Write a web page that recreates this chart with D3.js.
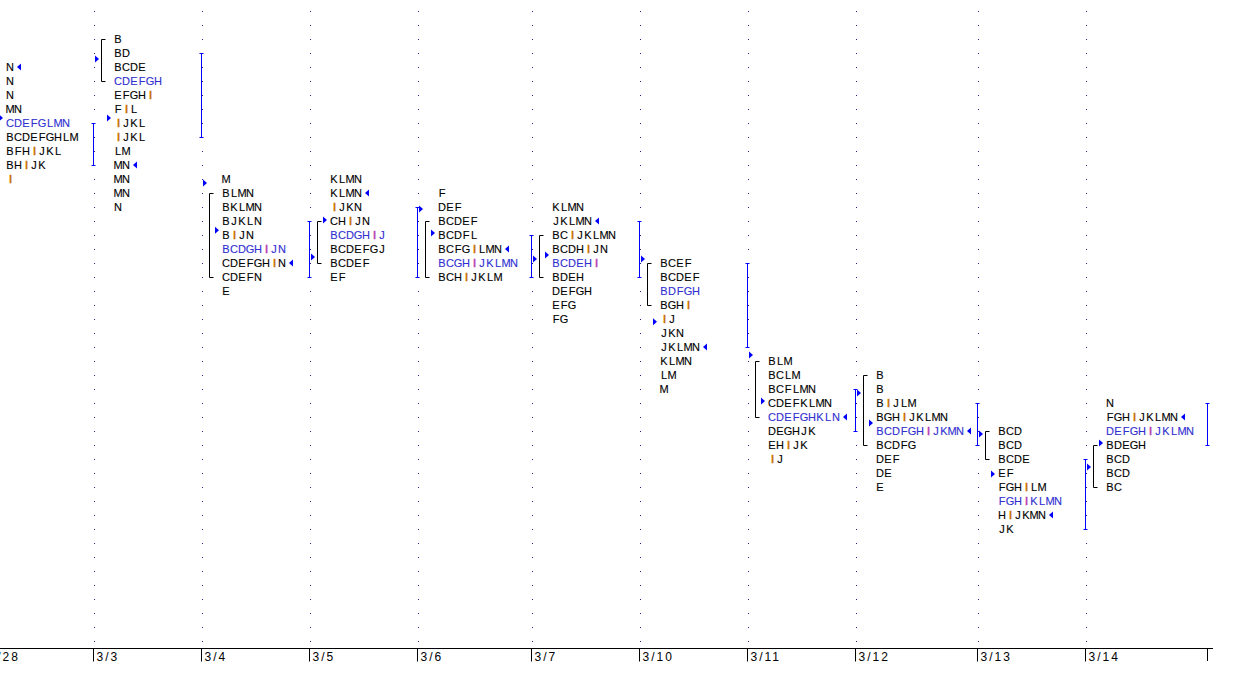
<!DOCTYPE html>
<html><head><meta charset="utf-8">
<script src="https://cdn.jsdelivr.net/npm/d3@7"></script>
<style>html,body{margin:0;padding:0;background:#fff;overflow:hidden}</style>
</head><body><svg id="c" width="1244" height="700"></svg>
<script>
// ---- data ----
const days = ["2/28","3/3","3/4","3/5","3/6","3/7","3/10","3/11","3/12","3/13","3/14"];
const profiles = [
  ["N","N","N","MN","CDEFGLMN","BCDEFGHLM","BFHIJKL","BHIJK","I"],
  ["B","BD","BCDE","CDEFGH","EFGHI","FIL","IJKL","IJKL","LM","MN","MN","MN","N"],
  ["M","BLMN","BKLMN","BJKLN","BIJN","BCDGHIJN","CDEFGHIN","CDEFN","E"],
  ["KLMN","KLMN","IJKN","CHIJN","BCDGHIJ","BCDEFGJ","BCDEF","EF"],
  ["F","DEF","BCDEF","BCDFL","BCFGILMN","BCGHIJKLMN","BCHIJKLM"],
  ["KLMN","JKLMN","BCIJKLMN","BCDHIJN","BCDEHI","BDEH","DEFGH","EFG","FG"],
  ["BCEF","BCDEF","BDFGH","BGHI","IJ","JKN","JKLMN","KLMN","LM","M"],
  ["BLM","BCLM","BCFLMN","CDEFKLMN","CDEFGHKLN","DEGHJK","EHIJK","IJ"],
  ["B","B","BIJLM","BGHIJKLMN","BCDFGHIJKMN","BCDFG","DEF","DE","E"],
  ["BCD","BCD","BCDE","EF","FGHILM","FGHIKLMN","HIJKMN","JK"],
  ["N","FGHIJKLMN","DEFGHIJKLMN","BDEGH","BCD","BCD","BC"]
];
// price levels counted downward from the top row of the grid
const topLevel   = [2, 0, 10, 10, 11, 12, 16, 23, 24, 28, 26];
const pocLevel   = [6, 3, 15, 14, 16, 16, 18, 27, 28, 33, 28];
const closeLevel = [2, 9, 16, 11, 15, 13, 22, 27, 28, 34, 27];
const openLevel  = [5.64, 5.64, 13.66, 12.93, 13.86, 15.43, 20.2, 25.86, 27.43, 31.07, 28.86];
const priorLevel = [null, 1.43, 10.29, 15.57, 12.14, 15.71, 15.71, 22.57, 25.29, 28.21, 30.57];
const vaHigh     = [6, 1, 13, 12, 14, 13, 16, 25, 26, 30, 26];
const vaLow      = [9, 7, 17, 17, 17, 17, 22, 28, 29, 35, 29];
const ibPeriods  = ["B","C"];

// ---- layout ----
const svg = d3.select("#c");
const CELL = 8, LETTER_OFF = 21, MINW = 108, PADW = 13;
const startX = -15;
const widths = profiles.map(p => Math.max(MINW, LETTER_OFF + CELL * d3.max(p, r => r.length) + PADW));
const bounds = [];
let acc = startX;
widths.forEach(w => { bounds.push(acc); acc += w; });
const endX = acc;
const x = d3.scaleOrdinal().domain(days).range(bounds);
const y = d3.scaleLinear().domain([0, 43]).range([39, 641]);
const px = v => Math.round(v) + 0.5;

const FONT = "'Liberation Sans', Arial, sans-serif";
const BLUE = "#0000ff";

// dotted grid
const gridLevels = d3.range(-2, 44);
const gGrid = svg.append("g");
days.forEach(d => {
  gGrid.selectAll(null).data(gridLevels).join("rect")
    .attr("x", Math.round(x(d)) + 1).attr("y", k => Math.round(y(k)))
    .attr("width", 1).attr("height", 1).attr("fill", "#20208a");
});

// profiles
days.forEach((d, i) => {
  const b = x(d);
  const L = b + LETTER_OFF;
  const next = i < days.length - 1 ? x(days[i + 1]) : endX;
  const g = svg.append("g");
  const rows = profiles[i].map((s, j) => ({ s, k: topLevel[i] + j }));
  // letters
  rows.forEach(r => {
    const poc = r.k === pocLevel[i];
    const col = c => c === "I" ? (poc ? "#b83cb0" : "#c86a00") : (poc ? "#3030d0" : "#000");
    g.selectAll(null).data(r.s.split("")).join("text")
      .attr("x", (c, j) => L + CELL * j + CELL / 2 + (c === "I" ? 0.5 : 0))
      .attr("y", y(r.k) + 4)
      .attr("text-anchor", "middle")
      .attr("font-family", FONT).attr("font-size", 11)
      .attr("fill", col)
      .attr("stroke", col)
      .attr("stroke-width", c => c === "I" ? 0.6 : 0.12)
      .text(c => c);
  });
  // initial balance bracket (rows with B or C)
  const ib = rows.filter(r => ibPeriods.some(p => r.s.includes(p))).map(r => r.k);
  if (ib.length) {
    const bx = px(b + 8), y0 = px(y(d3.min(ib))), y1 = px(y(d3.max(ib)));
    g.append("path").attr("d", `M${bx + 4},${y0}H${bx}V${y1}H${bx + 4}`)
      .attr("fill", "none").attr("stroke", "#000").attr("stroke-width", 1);
  }
  // value area bar at right edge
  {
    const vx = px(next), y0 = px(y(vaHigh[i])), y1 = px(y(vaLow[i]));
    g.append("path").attr("d", `M${vx - 2},${y0}H${vx + 2}M${vx},${y0}V${y1}M${vx - 2},${y1}H${vx + 2}`)
      .attr("fill", "none").attr("stroke", BLUE).attr("stroke-width", 1);
  }
  // prior marker at boundary
  if (priorLevel[i] != null) {
    const yy = y(priorLevel[i]);
    g.append("path").attr("d", `M${b + 2},${yy - 3.5}L${b + 6},${yy}L${b + 2},${yy + 3.5}Z`).attr("fill", BLUE);
  }
  // open marker
  {
    const yy = y(openLevel[i]);
    g.append("path").attr("d", `M${L - 7},${yy - 3.5}L${L - 3},${yy}L${L - 7},${yy + 3.5}Z`).attr("fill", BLUE);
  }
  // close marker
  {
    const cr = rows.find(r => r.k === closeLevel[i]);
    const e = L + CELL * cr.s.length;
    const yy = y(closeLevel[i]);
    g.append("path").attr("d", `M${e + 3},${yy}L${e + 7},${yy - 3.5}L${e + 7},${yy + 3.5}Z`).attr("fill", BLUE);
  }
});

// axis
const AX_Y = 648;
const axis = d3.axisBottom(x).tickSize(13).tickSizeOuter(0);
const gA = svg.append("g").attr("transform", `translate(0,${AX_Y + 0.5})`).call(axis);
gA.select(".domain").remove();
gA.selectAll(".tick").attr("transform", d => `translate(${px(x(d))},0)`);
gA.selectAll(".tick line").attr("stroke", "#000");
gA.selectAll(".tick text")
  .attr("x", 3).attr("y", 12.5).attr("dy", null)
  .attr("text-anchor", "start")
  .attr("font-family", FONT).attr("font-size", 12)
  .attr("letter-spacing", 2).attr("fill", "#000");
svg.append("line").attr("x1", 0).attr("x2", endX + 6)
  .attr("y1", AX_Y + 0.5).attr("y2", AX_Y + 0.5).attr("stroke", "#000");
svg.append("line").attr("x1", px(endX)).attr("x2", px(endX))
  .attr("y1", AX_Y).attr("y2", AX_Y + 13).attr("stroke", "#000");
</script></body></html>
